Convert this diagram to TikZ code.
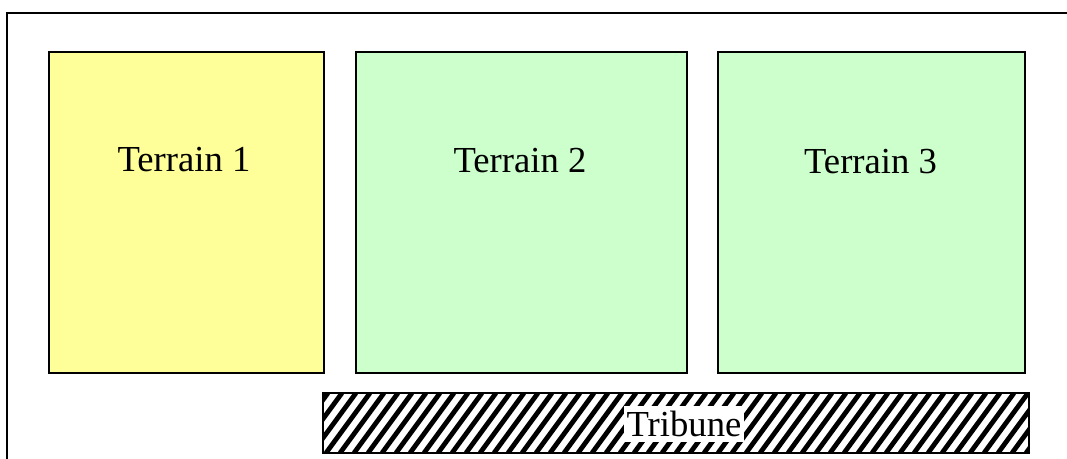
\documentclass[tikz,border=0pt]{standalone}
\usepackage{fontspec}
\setmainfont{Liberation Serif}
\begin{document}
\begin{tikzpicture}[x=0.75pt,y=-0.75pt,
  field/.style={draw=black,line width=1.5pt,anchor=north west,inner sep=0pt,outer sep=0pt},
  lbl/.style={font=\fontsize{27.5}{32}\selectfont,inner sep=0pt,anchor=base}]
\useasboundingbox (0,0) rectangle (1067,459);
% outer frame (cut at right and bottom)
\draw[line width=1.5pt] (7,460) -- (7,13) -- (1068,13);
% terrains
\node[field,fill={rgb,255:red,255;green,255;blue,153},minimum width=275*0.75pt,minimum height=321*0.75pt] (t1) at (49,52) {};
\node[field,fill={rgb,255:red,204;green,255;blue,204},minimum width=331*0.75pt,minimum height=321*0.75pt] (t2) at (356,52) {};
\node[field,fill={rgb,255:red,204;green,255;blue,204},minimum width=307*0.75pt,minimum height=321*0.75pt] (t3) at (718,52) {};
\node[lbl] (l1) at (184,172) {Terrain 1};
\node[lbl] (l2) at (520,172.5) {Terrain 2};
\node[lbl] (l3) at (870.5,174) {Terrain 3};
% tribune
\node[field,minimum width=706*0.75pt,minimum height=60*0.75pt] (tr) at (323,393) {};
\begin{scope}
\clip (tr.south west) rectangle (tr.north east);
\foreach \x in {200,214,...,1100}
  \draw[line width=3.6pt] (\x,453) -- (\x+44,393);
\end{scope}
\draw[line width=1.5pt] (tr.south west) rectangle (tr.north east);
\node[lbl,fill=white,inner xsep=2pt,inner ysep=4pt] (tl) at (684,436.5) {Tribune};
\end{tikzpicture}
\end{document}
